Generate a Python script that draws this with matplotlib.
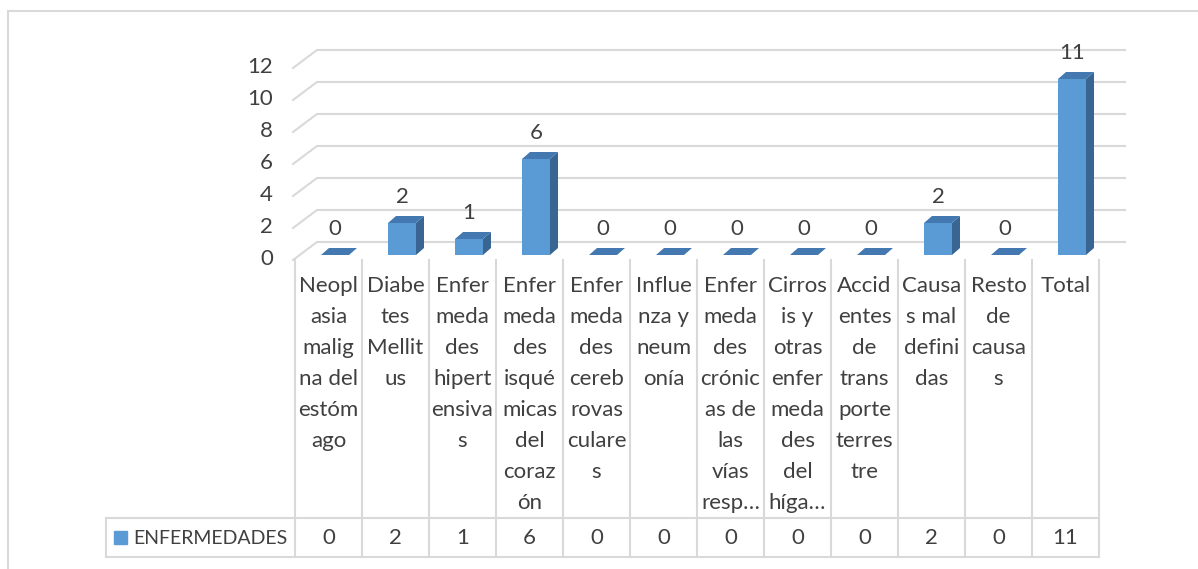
import matplotlib
matplotlib.use('Agg')
import matplotlib.pyplot as plt
from matplotlib.patches import Polygon, Rectangle

plt.rcParams['font.family'] = ['Lato', 'DejaVu Sans']

# Category names, already wrapped the way the table cells show them
categories = [
    "Neopl\nasia\nmalig\nna del\nestóm\nago",
    "Diabe\ntes\nMellit\nus",
    "Enfer\nmeda\ndes\nhipert\nensiva\ns",
    "Enfer\nmeda\ndes\nisqué\nmicas\ndel\ncoraz\nón",
    "Enfer\nmeda\ndes\ncereb\nrovas\nculare\ns",
    "Influe\nnza y\nneum\nonía",
    "Enfer\nmeda\ndes\ncrónic\nas de\nlas\nvías\nresp…",
    "Cirros\nis y\notras\nenfer\nmeda\ndes\ndel\nhíga…",
    "Accid\nentes\nde\ntrans\nporte\nterres\ntre",
    "Causa\ns mal\ndefini\ndas",
    "Resto\nde\ncausa\ns",
    "Total",
]
enfermedades = [0, 2, 1, 6, 0, 0, 0, 0, 0, 2, 0, 11]
series_name = "ENFERMEDADES"
yticks = [0, 2, 4, 6, 8, 10, 12]

W, H = 1198, 569
FRONT = '#5B9BD5'
TOP = '#4379B0'
SIDE = '#386592'
GRID = '#D9D9D9'
TXT = '#404040'
FS = 16


def frac(x0, y0, x1, y1):
    return [x0 / W, 1 - y1 / H, (x1 - x0) / W, (y1 - y0) / H]


fig = plt.figure(figsize=(W / 100, H / 100), dpi=100)
fig.patches.append(Rectangle((7.5 / W, -0.05), 1.2, 1 - 11 / H + 0.05,
                             transform=fig.transFigure, fill=False,
                             edgecolor=GRID, lw=1.5))

n = len(categories)
x = list(range(n))

# plot area: one x unit per category (67 px), 16 px per value unit
ax = fig.add_axes(frac(295, 10, 1099, 260))
ax.set_xlim(-0.5, n - 0.5)
ax.set_ylim(0, 250 / 16)
ax.axis('off')
PX = 1 / 67
PY = 1 / 16

# back wall gridlines with the slanted floor edge on the left
for v in yticks:
    ax.plot([-0.5 - 2 * PX, -0.5 + 22 * PX, n - 0.5 + 26 * PX],
            [v, v + 18 * PY, v + 18 * PY],
            color=GRID, lw=1.5, clip_on=False, zorder=1)
    ax.text(-0.5 - 22 * PX, v + 1 * PY, str(v), ha='right', va='center',
            fontsize=FS, color=TXT)

# 3D-looking columns: front face from ax.bar, top and side as polygons
base = 5 * PY
bw = 28 * PX
dx, dy = 8 * PX, 7 * PY
xs = [i + 6.5 * PX for i in x]
ax.bar(xs, enfermedades, width=bw, bottom=base, color=FRONT, zorder=3)
for xc, v in zip(xs, enfermedades):
    xl, xr = xc - bw / 2, xc + bw / 2
    yt = base + v
    ax.add_patch(Polygon([(xr, base), (xr + dx, base + dy), (xr + dx, yt + dy), (xr, yt)],
                         closed=True, color=SIDE, lw=0, zorder=3))
    ax.add_patch(Polygon([(xl, yt), (xr, yt), (xr + dx, yt + dy), (xl + dx, yt + dy)],
                         closed=True, color=TOP, lw=0, zorder=3))
    ax.text(xc, yt + 26 * PY, str(v), ha='center', va='center',
            fontsize=FS, color=TXT, zorder=4)

# data table below the plot, y measured in px downward from the floor
tax = fig.add_axes(frac(295, 260, 1099, 557))
tax.set_xlim(-0.5, n - 0.5)
tax.set_ylim(297, 0)
tax.axis('off')
leg_x = -0.5 - (295 - 106) * PX
for k in range(n + 1):
    tax.plot([k - 0.5, k - 0.5], [0, 297], color=GRID, lw=1.5, clip_on=False)
for yy in (258, 297):
    tax.plot([leg_x, n - 0.5], [yy, yy], color=GRID, lw=1.5, clip_on=False)
tax.plot([leg_x, leg_x], [258, 297], color=GRID, lw=1.5, clip_on=False)

for i, lab in zip(x, categories):
    for j, line in enumerate(lab.split('\n')):
        tax.text(i, 26 + 31 * j, line, ha='center', va='center',
                 fontsize=FS, color=TXT)
for i, v in zip(x, enfermedades):
    tax.text(i, 277.5, str(v), ha='center', va='center', fontsize=FS, color=TXT)

tax.add_patch(Rectangle((-0.5 - (295 - 114) * PX, 271), 13 * PX, 13,
                        color=FRONT, clip_on=False))
tax.text(-0.5 - (295 - 133) * PX, 278, series_name, ha='left', va='center',
         fontsize=14, color=TXT, clip_on=False)

fig.savefig('out.png', dpi=100)
